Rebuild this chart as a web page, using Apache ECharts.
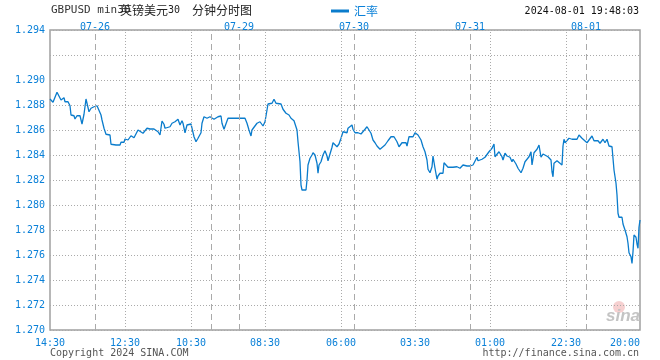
<!DOCTYPE html>
<html>
<head>
<meta charset="utf-8">
<script src="https://cdn.jsdelivr.net/npm/echarts@6/dist/echarts.min.js"></script>
<style>html,body{margin:0;padding:0;background:#fff}#c{width:660px;height:360px}</style>
</head>
<body>
<div id="c"></div>
<script>
// time index (position along the 5-day axis) and GBP/USD rate
const xIdx = [0,3,5,7,9,11,14,15,18,20,21,24,25,27,30,32,34,36,37,39,41,44,47,49,51,52,54,56,58,60,61,63,66,70,71,74,75,78,81,84,86,88,90,93,95,97,100,104,108,110,112,114,115,117,120,122,125,128,130,132,133,135,137,138,141,142,144,146,148,151,152,154,157,160,164,168,171,172,174,176,178,182,188,195,197,199,201,202,204,207,208,210,212,213,215,217,218,220,222,224,226,228,231,233,236,238,239,241,242,244,247,248,249,250,251,252,254,256,257,258,260,262,263,265,267,268,269,271,273,275,277,278,280,282,283,285,287,289,291,293,295,297,298,300,302,303,305,308,311,312,315,317,319,321,323,325,327,330,332,335,338,341,344,347,349,352,354,356,357,359,361,363,365,367,368,371,373,375,377,378,380,382,383,385,387,388,390,393,394,396,398,403,407,410,413,415,417,420,423,425,427,428,432,435,437,439,442,444,445,447,449,452,453,455,457,460,462,463,466,468,471,473,475,477,479,481,482,484,487,489,491,493,495,498,501,502,503,504,507,509,512,513,514,515,517,519,522,527,529,532,534,537,539,542,544,546,548,550,553,555,557,559,562,563,564,566,567,568,569,572,573,575,577,578,579,581,582,583,584,586,587,588,589,590];
const rate = [1.28848,1.28822,1.28822,1.28902,1.28886,1.2884,1.28858,1.28826,1.28826,1.28794,1.2872,1.28714,1.28688,1.28714,1.28714,1.28648,1.28726,1.28848,1.28814,1.28746,1.28774,1.28786,1.28794,1.28778,1.2872,1.2868,1.28614,1.28566,1.28582,1.2856,1.28486,1.28474,1.2848,1.2848,1.28502,1.28502,1.28528,1.2852,1.28554,1.28538,1.28528,1.286,1.28608,1.28574,1.28586,1.28614,1.28608,1.28608,1.28586,1.2856,1.28672,1.28646,1.28614,1.28618,1.28626,1.28654,1.28666,1.28686,1.2864,1.28674,1.28654,1.28578,1.2864,1.28648,1.28648,1.28614,1.28546,1.28506,1.28534,1.28578,1.28654,1.28706,1.28694,1.28706,1.28686,1.28706,1.28712,1.28654,1.28606,1.28606,1.28694,1.28694,1.28694,1.28694,1.28654,1.286,1.28552,1.286,1.28622,1.28654,1.2864,1.28666,1.28654,1.28632,1.28666,1.2876,1.28808,1.28792,1.28814,1.28846,1.28814,1.288,1.28808,1.28766,1.28734,1.28728,1.2872,1.28694,1.28706,1.28674,1.286,1.28506,1.28426,1.28346,1.2816,1.2812,1.28106,1.2812,1.282,1.2832,1.28374,1.284,1.28418,1.284,1.28334,1.28254,1.2832,1.28346,1.284,1.28434,1.28392,1.28354,1.28408,1.28462,1.28498,1.28488,1.28466,1.28488,1.28534,1.28586,1.286,1.28578,1.28614,1.28626,1.2864,1.28606,1.28578,1.28578,1.28568,1.28552,1.28606,1.28626,1.286,1.28574,1.2852,1.28498,1.28472,1.28446,1.28454,1.2848,1.28514,1.28546,1.28546,1.28506,1.28466,1.28498,1.28514,1.28498,1.28472,1.28546,1.2856,1.28546,1.28578,1.28586,1.2856,1.2852,1.28466,1.28426,1.2836,1.28286,1.28258,1.28306,1.28392,1.28294,1.28206,1.28232,1.28254,1.28254,1.28338,1.2832,1.28302,1.28302,1.28306,1.28294,1.2832,1.28334,1.28312,1.28312,1.2832,1.28334,1.28382,1.28354,1.28366,1.28382,1.28386,1.28426,1.28454,1.28488,1.28386,1.284,1.28426,1.28386,1.2836,1.28414,1.28392,1.28382,1.28346,1.28366,1.28328,1.28294,1.28258,1.28294,1.28346,1.28366,1.28386,1.28426,1.2832,1.28418,1.28446,1.2848,1.28382,1.28408,1.28408,1.28386,1.2836,1.28266,1.28226,1.28334,1.28354,1.28338,1.2832,1.28472,1.28526,1.28498,1.28494,1.28534,1.28526,1.28526,1.2856,1.28534,1.28526,1.28498,1.28514,1.28552,1.28514,1.28506,1.28514,1.28494,1.28526,1.28498,1.28526,1.28472,1.28466,1.28466,1.2828,1.28174,1.2808,1.27934,1.27902,1.27902,1.27848,1.278,1.27746,1.27694,1.27618,1.27586,1.27533,1.27626,1.2776,1.27742,1.27688,1.27654,1.27822,1.2788];

// bottom time tick labels and their positions
const timePos = [0,75,141,215,291,365,440,516,590];
const timeLabels = ['14:30','12:30','10:30','08:30','06:00','03:30','01:00','22:30','20:00'];
// day boundaries (dashed) and their date labels ('' = unlabeled)
const dayPos = [45,161,189,304,420,536];
const dayLabels = ['07-26','','07-29','07-30','07-31','08-01'];
// y ticks
const yMin = 1.270, yMax = 1.294, yStep = 0.002;
const yHidden = ['1.292'];

const BLUE = '#0a80d8';
const LINE = '#0a7ccc';
const GRID = '#aaaaaa';
const MONO = 'DejaVu Sans Mono, Liberation Mono, monospace';

const chart = echarts.init(document.getElementById('c'), null, {renderer: 'canvas'});

const markData = [];
timePos.slice(1, -1).forEach(v => markData.push({xAxis: v, lineStyle: {type: [1, 2], color: GRID, width: 1}}));
dayPos.forEach(v => markData.push({xAxis: v, lineStyle: {type: [6, 4], color: GRID, width: 1}}));

chart.setOption({
  animation: false,
  grid: {left: 50, right: 20, top: 30, bottom: 30, show: true, borderColor: '#a0a0a0', borderWidth: 1.5, backgroundColor: 'transparent'},
  legend: {
    left: 326, top: 0, icon: 'rect', itemWidth: 18, itemHeight: 3, itemGap: 6,
    textStyle: {color: BLUE, fontSize: 12, fontFamily: 'Noto Sans CJK SC'},
    data: ['汇率']
  },
  xAxis: [{
    type: 'value', min: 0, max: 590, position: 'bottom',
    axisLine: {show: false}, axisTick: {show: false}, splitLine: {show: false},
    axisLabel: {
      customValues: timePos, color: BLUE, fontSize: 10, fontFamily: MONO, margin: 8,
      alignMaxLabel: 'right', showMinLabel: true, showMaxLabel: true,
      formatter: v => { const i = timePos.indexOf(v); return i >= 0 ? timeLabels[i] : ''; }
    }
  }, {
    type: 'value', min: 0, max: 590, position: 'top', offset: -3,
    axisLine: {show: false}, axisTick: {show: false}, splitLine: {show: false},
    axisLabel: {
      customValues: dayPos, color: BLUE, fontSize: 10, fontFamily: MONO, margin: 1,
      formatter: v => { const i = dayPos.indexOf(v); return i >= 0 ? dayLabels[i] : ''; }
    }
  }],
  yAxis: {
    type: 'value', min: yMin, max: yMax, interval: yStep,
    axisLine: {show: false}, axisTick: {show: false},
    splitLine: {show: true, lineStyle: {type: [1, 2], color: GRID, width: 1}},
    axisLabel: {
      color: BLUE, fontSize: 10, fontFamily: MONO, margin: 5,
      formatter: v => { const s = v.toFixed(3); return yHidden.includes(s) ? '' : s; }
    }
  },
  series: [{
    name: 'grid', type: 'line', data: [], z: 1, silent: true,
    markLine: {silent: true, symbol: ['none', 'none'], label: {show: false}, data: markData, animation: false}
  }, {
    name: '汇率', type: 'line', z: 3, showSymbol: false, smooth: false,
    lineStyle: {color: LINE, width: 1.3}, itemStyle: {color: LINE},
    data: xIdx.map((x, i) => [x, rate[i]])
  }],
  graphic: [
    {type: 'text', left: 51, top: 5, style: {text: 'GBPUSD min30', fill: '#333', font: '11px ' + MONO}},
    {type: 'text', left: 120, top: 4, style: {
      text: '{a|英镑美元}{b|30  }{a|分钟分时图}',
      rich: {a: {fontFamily: 'Noto Sans CJK SC', fontSize: 12, fill: '#222'}, b: {fontFamily: MONO, fontSize: 10, fill: '#222'}}
    }},
    {type: 'text', right: 21, top: 6, style: {text: '2024-08-01 19:48:03', fill: '#111', font: '10px ' + MONO}},
    {type: 'text', left: 50, top: 348, style: {text: 'Copyright 2024 SINA.COM', fill: '#555', font: '10px ' + MONO}},
    {type: 'text', right: 21, top: 348, style: {text: 'http://finance.sina.com.cn', fill: '#555', font: '10px ' + MONO}},
    {type: 'circle', shape: {cx: 619, cy: 307, r: 6}, style: {fill: 'rgba(230,120,120,0.35)'}, z: 0},
    {type: 'text', left: 606, top: 308, z: 0, style: {text: 'sina', fill: '#c4c4c4', font: 'italic bold 17px Arial, Liberation Sans'}}
  ]
});
</script>
</body>
</html>
